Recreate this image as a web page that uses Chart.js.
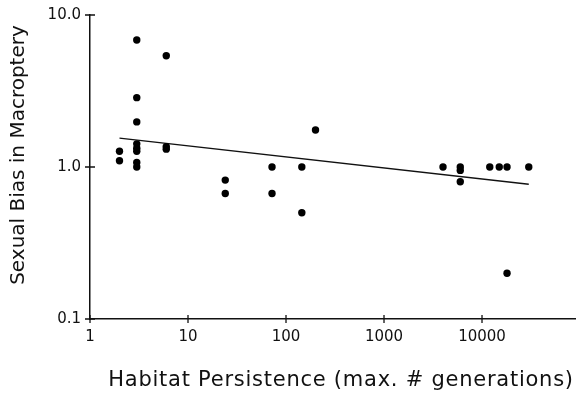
<!DOCTYPE html>
<html>
<head>
<meta charset="utf-8">
<script src="https://cdn.jsdelivr.net/npm/chart.js@4"></script>
<style>
html,body{margin:0;padding:0;background:#fff;}
#wrap{width:576px;height:393px;position:relative;}
</style>
</head>
<body>
<div id="wrap"><canvas id="c" width="576" height="393"></canvas></div>
<script>
// Data
const persistence = [2,2,3,3,3,3,3,3,3,3,6,6,6,24,24,72,72,145,145,200,4000,6000,6000,6000,12000,15000,18000,18000,30000];
const sexualBias  = [1.27,1.1,6.85,2.86,1.98,1.42,1.33,1.27,1.07,1.0,5.4,1.36,1.31,0.82,0.67,1.0,0.67,1.0,0.5,1.75,1.0,1.0,0.95,0.8,1.0,1.0,1.0,0.2,1.0];
const trendX = [2, 30000];
const trendY = [1.55, 0.77];
const xTicks = [1, 10, 100, 1000, 10000];
const yTicks = [0.1, 1, 10];
const yTickLabels = ["0.1", "1.0", "10.0"];

const FONT = "'DejaVu Sans', sans-serif";

const crossTicks = {
  id: 'crossTicks',
  afterDraw(chart) {
    const ctx = chart.ctx;
    const xs = chart.scales.x, ys = chart.scales.y;
    ctx.save();
    ctx.strokeStyle = '#111';
    ctx.lineWidth = 1.3;
    ctx.beginPath();
    xTicks.forEach(v => {
      const p = xs.getPixelForValue(v);
      ctx.moveTo(p, ys.bottom - 4); ctx.lineTo(p, ys.bottom + 4);
    });
    yTicks.forEach(v => {
      const p = ys.getPixelForValue(v);
      ctx.moveTo(xs.left - 5, p); ctx.lineTo(xs.left + 5, p);
    });
    ctx.stroke();
    ctx.restore();
  }
};

function patchTitle(s, dx, dy, spacing) {
  if (s._titlePatched) return;
  const orig = s.drawTitle;
  s.drawTitle = function () {
    const ctx = this.ctx;
    ctx.save();
    ctx.translate(dx, dy);
    ctx.letterSpacing = spacing;
    orig.call(this);
    ctx.restore();
  };
  s._titlePatched = true;
}

new Chart(document.getElementById('c'), {
  type: 'scatter',
  data: {
    datasets: [
      {
        data: persistence.map((x, i) => ({x: x, y: sexualBias[i]})),
        backgroundColor: '#000',
        borderColor: '#000',
        pointRadius: 3.7,
        pointBorderWidth: 0
      },
      {
        type: 'line',
        data: trendX.map((x, i) => ({x: x, y: trendY[i]})),
        borderColor: '#111',
        borderWidth: 1.3,
        pointRadius: 0,
        fill: false
      }
    ]
  },
  options: {
    responsive: false,
    animation: false,
    events: [],
    layout: {autoPadding: false, padding: {top: 15, right: 0, left: 0, bottom: 0}},
    plugins: {legend: {display: false}, tooltip: {enabled: false}},
    scales: {
      x: {
        type: 'logarithmic',
        min: 1,
        max: 91000,
        afterBuildTicks: s => { s.ticks = xTicks.map(v => ({value: v})); },
        afterFit: s => {
          s.height = 74; s.paddingLeft = 0; s.paddingRight = 0;
          patchTitle(s, 8, 0, '0.75px');
        },
        grid: {display: false, drawTicks: false},
        border: {display: true, color: '#111', width: 1.5},
        ticks: {
          color: '#111',
          font: {family: FONT, size: 15},
          padding: 9,
          maxRotation: 0,
          callback: v => String(v)
        },
        title: {
          display: true,
          text: 'Habitat Persistence (max. # generations)',
          color: '#111',
          font: {family: FONT, size: 21},
          padding: {top: 0, bottom: 0}
        }
      },
      y: {
        type: 'logarithmic',
        min: 0.1,
        max: 10,
        afterBuildTicks: s => { s.ticks = yTicks.map(v => ({value: v})); },
        afterFit: s => {
          s.width = 90; s.paddingTop = 0; s.paddingBottom = 0;
          patchTitle(s, 0, -12, '0px');
        },
        grid: {display: false, drawTicks: false},
        border: {display: true, color: '#111', width: 1.5},
        ticks: {
          color: '#111',
          font: {family: FONT, size: 15},
          padding: 9,
          callback: (v) => { const i = yTicks.indexOf(v); return i >= 0 ? yTickLabels[i] : ''; }
        },
        title: {
          display: true,
          text: 'Sexual Bias in Macroptery',
          color: '#111',
          font: {family: FONT, size: 20},
          padding: {top: 7, bottom: 0}
        }
      }
    }
  },
  plugins: [crossTicks]
});
</script>
</body>
</html>
